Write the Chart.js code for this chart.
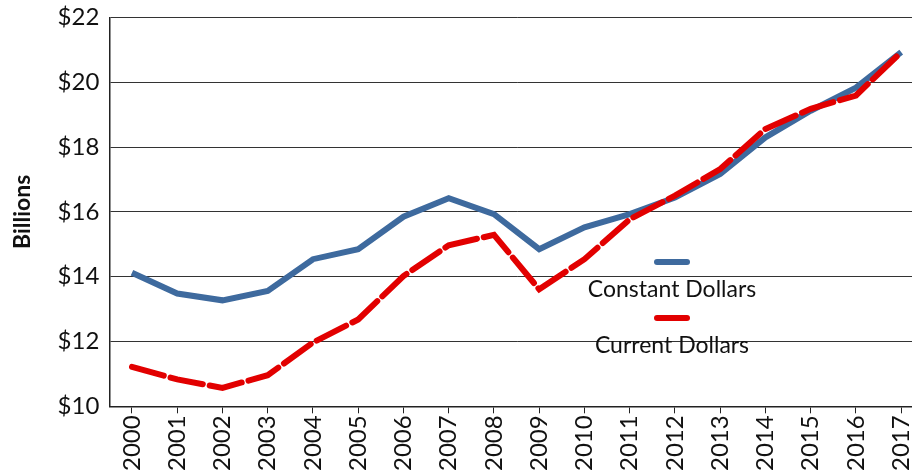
<!DOCTYPE html>
<html>
<head>
<meta charset="utf-8">
<script src="https://cdn.jsdelivr.net/npm/chart.js@4.4.1/dist/chart.umd.min.js"></script>
<style>
  html, body { margin: 0; padding: 0; background: #fff; overflow: hidden; }
  #wrap { position: relative; top: -7px; width: 932px; height: 480px; }
</style>
</head>
<body>
<div id="wrap"><canvas id="chart"></canvas></div>
<script>
var years = ['2000','2001','2002','2003','2004','2005','2006','2007','2008',
             '2009','2010','2011','2012','2013','2014','2015','2016','2017'];
var constantDollars = [14.12, 13.48, 13.27, 13.56, 14.54, 14.85, 15.85, 16.42, 15.93,
                       14.85, 15.52, 15.93, 16.44, 17.17, 18.30, 19.12, 19.83, 20.93];
var currentDollars = [11.22, 10.83, 10.57, 10.96, 11.97, 12.68, 14.02, 14.97, 15.29,
                      13.61, 14.54, 15.77, 16.50, 17.32, 18.56, 19.18, 19.59, 20.93];
var yTicks = [10, 12, 14, 16, 18, 20, 22];

var fontName = 'Lato, "Open Sans", sans-serif';

// legend drawn inside the plot, line above its label
var insideLegend = {
  id: 'insideLegend',
  afterDraw: function(chart) {
    var ctx = chart.ctx;
    var cx = 672;
    var rows = [{ y: 269, ty: 297 }, { y: 325, ty: 353 }];
    ctx.save();
    chart.data.datasets.forEach(function(ds, i) {
      var r = rows[i];
      ctx.strokeStyle = ds.borderColor;
      ctx.lineWidth = 6;
      ctx.lineCap = 'round';
      ctx.beginPath();
      ctx.moveTo(cx - 15, r.y);
      ctx.lineTo(cx + 15, r.y);
      ctx.stroke();
      ctx.fillStyle = '#111';
      ctx.font = '23px ' + fontName;
      ctx.textAlign = 'center';
      ctx.textBaseline = 'middle';
      ctx.fillText(ds.label, cx, r.ty);
    });
    ctx.restore();
  }
};

var ctx = document.getElementById('chart');
var chart = new Chart(ctx, {
  type: 'line',
  data: {
    labels: years,
    datasets: [
      {
        label: 'Constant Dollars',
        data: constantDollars,
        borderColor: '#3E6A9E',
        borderWidth: 6,
        pointRadius: 0,
        tension: 0,
        fill: false,
        order: 2
      },
      {
        label: 'Current Dollars',
        data: currentDollars,
        borderColor: '#E20000',
        borderWidth: 6,
        borderDash: [33, 7],
        borderCapStyle: 'round',
        pointRadius: 0,
        tension: 0,
        fill: false,
        order: 1
      }
    ]
  },
  options: {
    responsive: true,
    maintainAspectRatio: false,
    animation: false,
    layout: { padding: { top: 0, right: 0, left: 9, bottom: 0 } },
    plugins: {
      legend: { display: false },
      tooltip: { enabled: false }
    },
    scales: {
      x: {
        offset: true,
        border: { display: true, color: '#222', width: 1.5 },
        grid: { display: true, drawOnChartArea: false, color: '#222', tickLength: 7, lineWidth: 1 },
        ticks: {
          minRotation: 90, maxRotation: 90, autoSkip: false,
          color: '#111', padding: 2,
          font: { family: fontName, size: 24 }
        }
      },
      y: {
        min: 10, max: 22,
        afterBuildTicks: function(axis) {
          axis.ticks = yTicks.map(function(v) { return { value: v }; });
        },
        border: { display: true, color: '#222', width: 1.5 },
        grid: { color: '#333', lineWidth: 1, drawTicks: false },
        title: {
          display: true, text: 'Billions', color: '#111',
          font: { family: fontName, size: 23, weight: 'bold' },
          padding: { top: 0, bottom: 11 }
        },
        ticks: {
          color: '#111', padding: 10,
          font: { family: fontName, size: 24 },
          callback: function(v) { return '$' + v; }
        }
      }
    }
  },
  plugins: [insideLegend]
});
</script>
</body>
</html>
